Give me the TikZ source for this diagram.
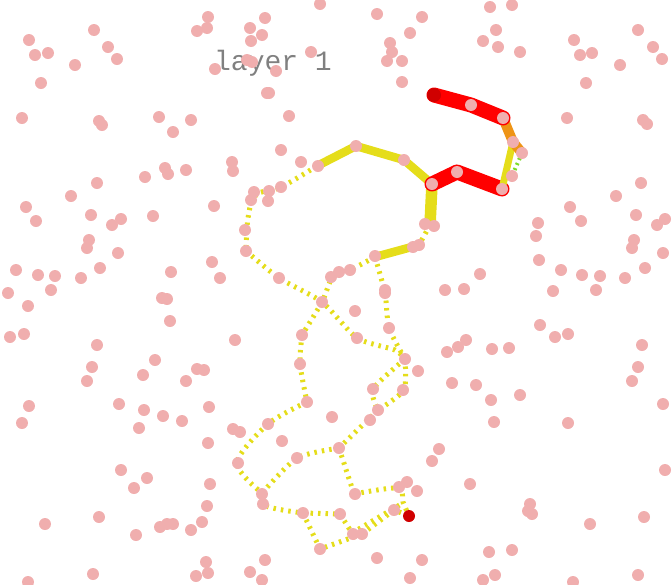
\documentclass[tikz,border=0pt]{standalone}
\usepackage{fontspec}
\newfontfamily\labelfont{Liberation Mono}
\definecolor{dotpink}{RGB}{240,174,174}
\definecolor{trailyellow}{RGB}{229,221,26}
\definecolor{hotred}{RGB}{255,0,0}
\definecolor{endred}{RGB}{208,0,0}
\definecolor{warmorange}{RGB}{238,148,22}
\definecolor{lowgreen}{RGB}{125,220,40}
\definecolor{labelgray}{RGB}{128,128,128}
\begin{document}
\begin{tikzpicture}[x=1pt,y=-1pt,line join=round,
  trail/.style={trailyellow,line width=5pt,dash pattern=on 2.5pt off 5pt},
  warm/.style={trailyellow,line width=8.5pt,line cap=round},
  hot/.style={hotred,line width=15pt,line cap=round},
  every node/.style={inner sep=0pt}]
\useasboundingbox (0,0) rectangle (672,584);
\coordinate (S) at (434,95);
\coordinate (A) at (317,166);
\coordinate (B) at (281,187);
\coordinate (C) at (256,195);
\coordinate (D) at (248,218);
\coordinate (E) at (246,251);
\coordinate (F) at (279,278);
\coordinate (G) at (322,302);
\coordinate (H) at (357,338);
\coordinate (I) at (405,359);
\coordinate (J) at (404,390);
\coordinate (K) at (378,410);
\coordinate (L) at (339,448);
\coordinate (M) at (297,458);
\coordinate (N) at (262,493);
\coordinate (O) at (303,513);
\coordinate (P) at (340,514);
\coordinate (Q) at (362,534);
\coordinate (R) at (320,549);
\coordinate (T) at (409,516);
\coordinate (U) at (398,488);
\coordinate (V) at (354,494);
\coordinate (W) at (373,389);
\coordinate (X) at (375,257);
\coordinate (Y) at (350,270);
\coordinate (Z) at (333,276);
\coordinate (G2) at (302,335);
\coordinate (G3) at (300,364);
\coordinate (G4) at (307,402);
\coordinate (G5) at (268,424);
\coordinate (G6) at (237,463);
\coordinate (X1) at (385,293);
\coordinate (X2) at (389,328);
\coordinate (Q1) at (352,533);
\coordinate (S1) at (394,510);
\coordinate (Hub) at (432,184);
\coordinate (Top1) at (356,146);
\coordinate (Top2) at (404,160);
\coordinate (Low1) at (430,225);
\coordinate (Low2) at (419,245);
\coordinate (Bend1) at (457,172);
\coordinate (Bend2) at (502,189);
\coordinate (Hook1) at (471,105);
\coordinate (Hook2) at (503,118);
\coordinate (Hook3) at (513,142);
\coordinate (Hook4) at (522,153);
\coordinate (Hook5) at (512,176);
\node[font=\labelfont\fontsize{28}{30}\selectfont,text=labelgray,anchor=base] (layer) at (273,70) {layer 1};
% dashed trail
\begin{scope}[trail]
\draw plot[smooth,tension=0.6] coordinates {(A) (B) (C) (D) (E)};
\draw plot[smooth,tension=0.4] coordinates {(E) (F) (G) (H) (395,350) (I)};
\draw plot[smooth,tension=0.4] coordinates {(X) (Y) (Z) (G) (G2)};
\draw plot[smooth,tension=0.4] coordinates {(X) (X1) (X2) (I)};
\draw plot[smooth,tension=0.4] coordinates {(G2) (G3) (G4)};
\draw plot[smooth,tension=0.5] coordinates {(G4) (G5) (G6) (N)};
\draw plot[smooth,tension=0.4] coordinates {(I) (W) (K)};
\draw plot[smooth,tension=0.4] coordinates {(I) (J) (K)};
\draw (K) -- (L);
\draw plot[smooth,tension=0.4] coordinates {(L) (M) (N)};
\draw (L) -- (V);
\draw plot[smooth,tension=0.5] coordinates {(V) (U) (403,502) (T)};
\draw plot[smooth,tension=0.6] coordinates {(N) (266,506) (O)};
\draw (O) -- (P) -- (Q1);
\draw (O) -- (R) -- (Q);
\draw (Q) -- (S1) -- (T);
\draw (Q1) -- (403,503);
\draw (Low1) -- (Low2);
\end{scope}
% solid trail
\draw[warm] (A) -- (Top1) -- (Top2) -- (Hub);
\draw[trailyellow,line width=11.5pt] (Hub) -- (Low1);
\draw[warm] (Low2) -- (X);
\draw[hot] (Hub) -- (Bend1) -- (Bend2);
\draw[trailyellow,line width=7pt] (Bend2) -- (Hook3);
\draw[lowgreen,line width=4pt,dash pattern=on 2pt off 3.5pt] (Hook4) -- (Hook5);
\draw[warmorange,line width=10pt] (Hook2) -- (Hook3) -- (Hook4);
\draw[hot] (S) -- (Hook1) -- (Hook2);
\fill[endred] (S) circle[radius=7pt];
% scattered points
\foreach \px/\py in {320/4,208/17,207/28,197/31,250/28,265/18,262/35,251/41,94/30,29/40,
  35/55,48/53,108/47,117/59,75/65,41/83,311/52,247/60,252/62,215/69,276/71,269/93,267/93,
  22/118,99/121,102/125,159/117,191/120,173/132,289/116,281/150,301/162,318/166,232/162,
  233/171,165/168,168/174,186/170,145/177,97/183,71/196,281/187,269/191,268/201,254/192,
  251/200,214/206,26/207,36/221,91/215,121/219,112/225,153/216,245/230,246/251,89/240,
  87/248,118/253,212/262,16/270,38/275,55/276,100/268,81/278,171/272,220/278,279/278,
  331/277,8/293,51/290,
  377/14,422/17,490/7,512/5,410/33,390/43,392/52,387/61,402/61,402/82,496/30,483/41,
  498/47,520/52,574/40,580/55,592/53,620/65,638/30,653/47,662/59,586/83,567/118,643/120,
  647/124,471/105,503/118,513/142,522/153,512/176,502/189,457/172,432/184,356/146,
  404/160,425/224,434/226,413/247,419/245,375/256,350/270,339/272,641/183,616/196,
  570/207,581/221,538/223,536/236,636/215,657/225,665/219,634/240,632/248,663/253,
  645/268,625/278,539/260,561/270,582/275,600/276,480/274,464/289,445/290,385/290,
  553/291,596/290,
  28/306,24/334,10/337,97/345,92/367,87/381,155/360,143/375,186/381,197/369,204/370,
  170/321,162/298,167/299,235/340,29/406,22/423,119/404,144/410,163/416,139/428,
  182/421,209/407,208/443,233/429,240/432,121/470,134/488,147/478,210/484,238/463,
  207/506,202/522,191/530,160/527,167/524,173/524,99/517,136/535,45/524,93/574,28/582,
  206/562,208/573,196/576,250/572,265/560,262/580,282/441,268/424,297/458,262/494,
  263/504,303/513,320/549,340/514,353/534,362/534,355/494,339/448,332/417,377/558,
  422/560,410/578,394/510,399/487,407/482,417/491,432/461,439/449,470/484,322/302,
  302/335,300/364,307/402,355/311,357/338,385/293,389/328,405/359,418/371,403/390,
  373/389,378/410,370/420,447/352,458/347,466/340,492/349,509/348,476/385,452/383,
  491/400,520/395,494/422,540/325,555/337,568/334,642/345,638/367,632/381,663/404,
  568/423,665/470,530/504,528/511,532/514,512/550,489/552,495/575,590/524,644/517,
  638/575,573/582,483/580}
  \fill[dotpink] (\px,\py) circle[radius=6pt];
\fill[endred] (T) circle[radius=6pt];
\end{tikzpicture}
\end{document}
